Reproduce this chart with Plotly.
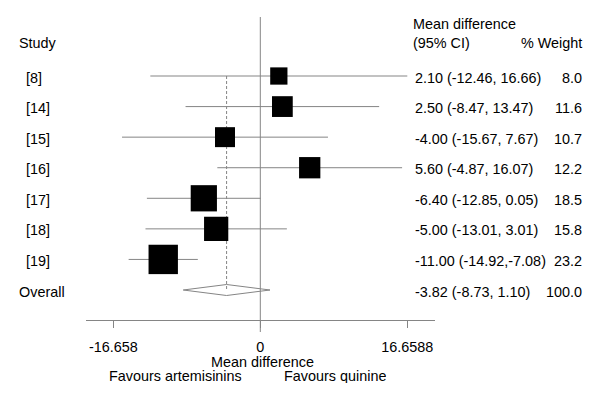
import plotly.graph_objects as go
import math

studies = ["[8]", "[14]", "[15]", "[16]", "[17]", "[18]", "[19]"]
means = [2.10, 2.50, -4.00, 5.60, -6.40, -5.00, -11.00]
lowers = [-12.46, -8.47, -15.67, -4.87, -12.85, -13.01, -14.92]
uppers = [16.66, 13.47, 7.67, 16.07, 0.05, 3.01, -7.08]
weights = [8.0, 11.6, 10.7, 12.2, 18.5, 15.8, 23.2]
ci_text = ["2.10 (-12.46, 16.66)", "2.50 (-8.47, 13.47)", "-4.00 (-15.67, 7.67)",
           "5.60 (-4.87, 16.07)", "-6.40 (-12.85, 0.05)", "-5.00 (-13.01, 3.01)",
           "-11.00 (-14.92,-7.08)"]
overall_label = "Overall"
overall_mean = -3.82
overall_lower = -8.73
overall_upper = 1.10
overall_text = "-3.82 (-8.73, 1.10)"
overall_weight = "100.0"
tick_vals = [-16.658, 0, 16.6588]
tick_text = ["-16.658", "0", "16.6588"]

W, H = 600, 398
FONT = "Liberation Sans, Arial, sans-serif"
FS = 14.4
GRAY = "#858585"

n = len(studies)
ys = [n + 1 - i for i in range(n)]  # 8..2
y_over = 1

fig = go.Figure()

# CI lines
for lo, hi, y in zip(lowers, uppers, ys):
    fig.add_trace(go.Scatter(x=[lo, hi], y=[y, y], mode="lines",
                             line=dict(color=GRAY, width=1), hoverinfo="skip", showlegend=False))

# overall dashed line
fig.add_trace(go.Scatter(x=[overall_mean, overall_mean], y=[ys[0], y_over], mode="lines",
                         line=dict(color=GRAY, width=1, dash="3px,2px"), hoverinfo="skip", showlegend=False))

# boxes
fig.add_trace(go.Scatter(x=means, y=ys, mode="markers",
                         marker=dict(symbol="square", color="black", opacity=1,
                                     size=[6.1 * math.sqrt(w) for w in weights],
                                     line=dict(width=0)),
                         hoverinfo="skip", showlegend=False))

# diamond
h = 0.18
fig.add_trace(go.Scatter(x=[overall_lower, overall_mean, overall_upper, overall_mean, overall_lower],
                         y=[y_over, y_over + h, y_over, y_over - h, y_over],
                         mode="lines", line=dict(color=GRAY, width=1),
                         hoverinfo="skip", showlegend=False))

# zero line
fig.add_shape(type="line", xref="x", yref="paper", x0=0, x1=0,
              y0=1 - 332 / H, y1=1 - 17 / H, line=dict(color=GRAY, width=1))

ann = []
def A(text, x, y, xanchor="left", yref="y", height=None):
    d = dict(text=text, x=x, y=y, xref="paper", yref=yref, xanchor=xanchor,
             yanchor="middle", showarrow=False, borderpad=0,
             font=dict(family=FONT, size=FS, color="black"))
    if height:
        d["height"] = height
    ann.append(d)

A("Study", 18 / W, 9.08)
A("Mean difference", 412 / W, 9.70)
A("(95% CI)", 412 / W, 9.08)
A("% Weight", 583 / W, 9.08, "right")
for s, t, w, y in zip(studies, ci_text, weights, ys):
    A(s, 25 / W, y - 0.05)
    A(t, 414 / W, y - 0.05)
    A(f"{w:.1f}", 583 / W, y - 0.05, "right")
A(overall_label, 18 / W, y_over - 0.05)
A(overall_text, 414 / W, y_over - 0.05)
A(overall_weight, 583 / W, y_over - 0.05, "right")

A("Mean difference", 262 / W, 1 - 361.5 / H, "center", "paper", 14)
A("Favours artemisinins", 175 / W, 1 - 375.5 / H, "center", "paper", 14)
A("Favours quinine", 335 / W, 1 - 375.5 / H, "center", "paper", 14)

scale = (407.3 - 113.3) / (16.6588 + 16.658)
x0px = 113.3 + 16.658 * scale
xl = (86 - x0px) / scale
xr = (435 - x0px) / scale
sp = 30.57
ybot = 1 - 30 / sp
ytop = 1 + 280 / sp

fig.update_layout(
    width=W, height=H, margin=dict(l=0, r=0, t=0, b=0),
    paper_bgcolor="white", plot_bgcolor="white",
    annotations=ann,
    xaxis=dict(domain=[86 / W, 435 / W], range=[xl, xr], showgrid=False, zeroline=False,
               showline=True, linecolor=GRAY, linewidth=1, ticks="outside", ticklen=7,
               tickcolor=GRAY, tickvals=tick_vals, ticktext=tick_text, ticklabelstandoff=7,
               tickfont=dict(family=FONT, size=FS, color="black")),
    yaxis=dict(domain=[1 - 320 / H, 1 - 10 / H], range=[ybot, ytop], visible=False),
)

fig.write_html("out.html", config={"displayModeBar": False},
               post_script="document.body.style.margin='0';")
